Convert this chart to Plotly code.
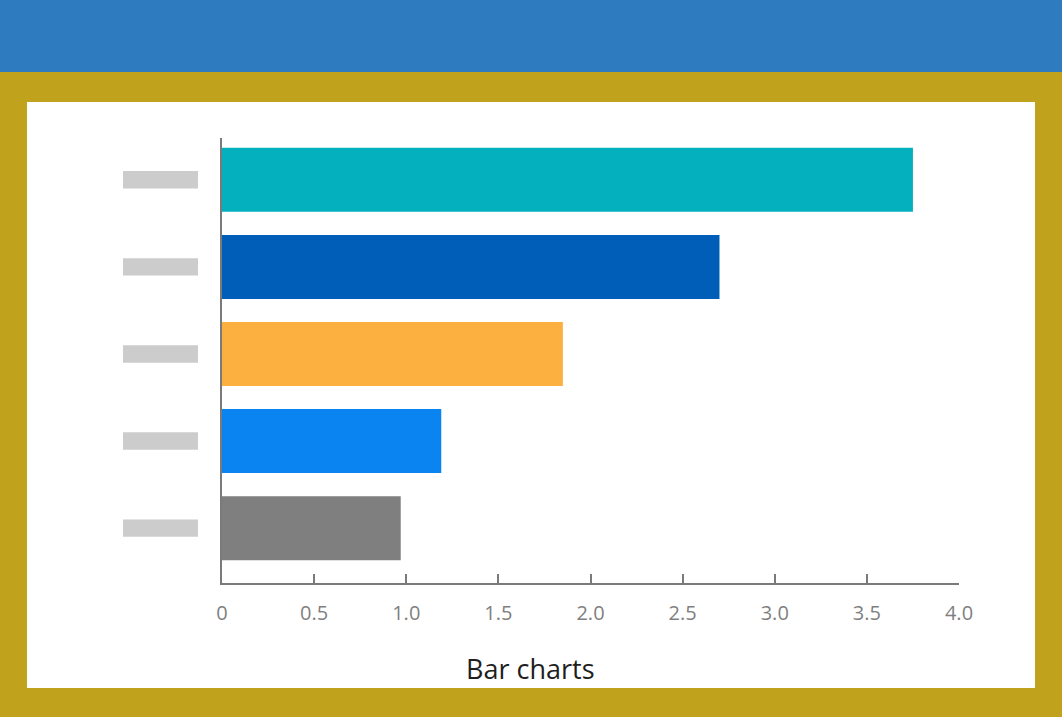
import plotly.graph_objects as go

# Data (top to bottom)
categories = ["A", "B", "C", "D", "E"]
values = [3.75, 2.70, 1.85, 1.19, 0.97]
bar_colors = ["#05B0BE", "#005EB8", "#FBB040", "#0A84F0", "#7F7F7F"]
tick_vals = [0, 0.5, 1.0, 1.5, 2.0, 2.5, 3.0, 3.5, 4.0]
tick_text = ["0", "0.5", "1.0", "1.5", "2.0", "2.5", "3.0", "3.5", "4.0"]
title_text = "Bar charts"

W, H = 1062, 717
GOLD = "#C0A21C"
BLUE = "#2E7BBF"
AXIS = "#7A7A7A"

fig = go.Figure()
fig.add_trace(go.Bar(
    x=values, y=categories, orientation="h",
    marker=dict(color=bar_colors, line=dict(width=0)),
    width=0.735, hoverinfo="x",
))

pl, pr, pt, pb = 222, W - 959, 138, H - 583
pw, ph = W - pl - pr, H - pt - pb
def px_x(x):
    return (x - pl) / pw
def px_y(y):
    return (H - pb - y) / ph

fig.update_layout(
    width=W, height=H,
    paper_bgcolor=GOLD, plot_bgcolor="white",
    margin=dict(l=pl, r=pr, t=pt, b=pb),
    showlegend=False,
    font=dict(family="Open Sans, Noto Sans, sans-serif"),
)

shapes = [
    dict(type="rect", xref="paper", yref="paper", x0=px_x(-10), x1=px_x(W + 10),
         y0=px_y(72), y1=px_y(-10), fillcolor=BLUE, line=dict(width=0), layer="below"),
    dict(type="rect", xref="paper", yref="paper", x0=px_x(27), x1=px_x(1035),
         y0=px_y(688), y1=px_y(102), fillcolor="white", line=dict(width=0), layer="below"),
]
# label placeholders beside each category
for i, c in enumerate(categories):
    shapes.append(dict(type="rect", xref="paper", yref="y",
                       x0=px_x(123), x1=px_x(198), y0=i - 0.1, y1=i + 0.1,
                       fillcolor="#CCCCCC", line=dict(width=0), layer="above"))

fig.update_layout(shapes=shapes)

fig.update_xaxes(
    range=[0, 4], tickvals=tick_vals, ticktext=tick_text,
    showline=True, linecolor=AXIS, linewidth=2,
    ticks="inside", ticklen=9, tickwidth=2, tickcolor=AXIS,
    showgrid=False, zeroline=False,
    tickfont=dict(size=20, color="#7F7F7F"),
    ticklabelstandoff=11,
)
fig.update_yaxes(
    range=[4.63, -0.48], showline=True, linecolor=AXIS, linewidth=2,
    showticklabels=False, ticks="", showgrid=False, zeroline=False,
)

fig.add_annotation(
    text=title_text, xref="paper", yref="paper",
    x=px_x(530), y=px_y(668), xanchor="center", yanchor="middle",
    showarrow=False, font=dict(size=27, color="#1E1E1E"),
)

fig.write_html(
    "out.html",
    config={"displayModeBar": False},
    post_script="document.body.style.margin='0';document.body.style.overflow='hidden';",
)
